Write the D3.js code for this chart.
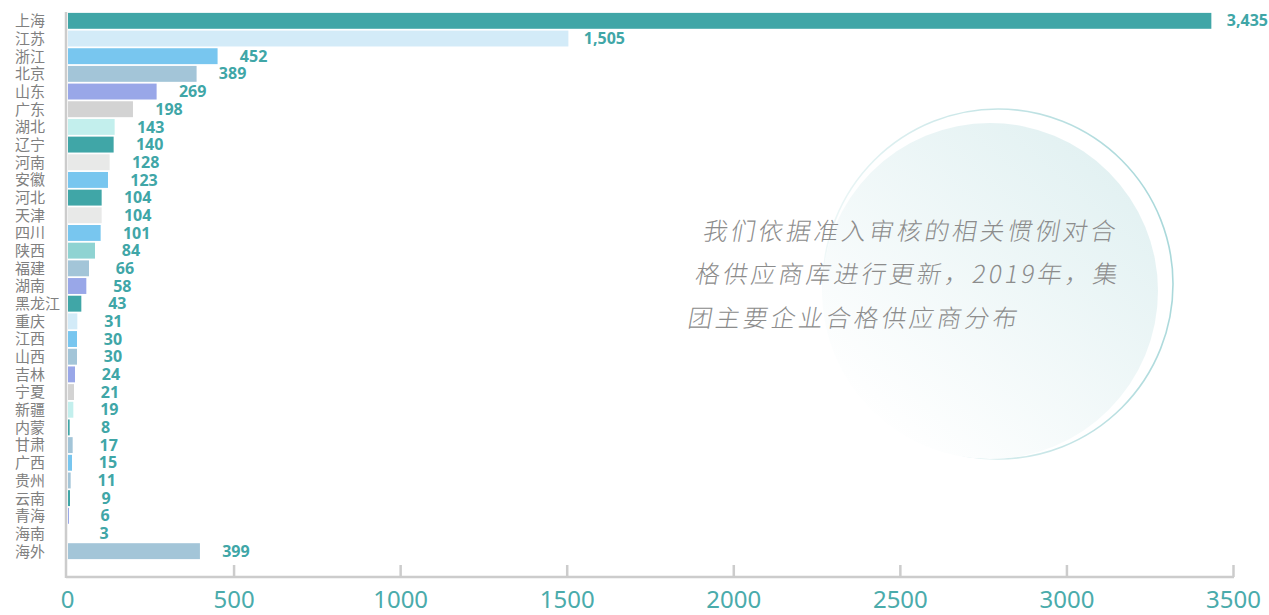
<!DOCTYPE html>
<html>
<head>
<meta charset="utf-8">
<script src="https://cdnjs.cloudflare.com/ajax/libs/d3/7.8.5/d3.min.js"></script>
<style>
  html, body { margin: 0; padding: 0; background: #fff; }
  svg { display: block; }
</style>
</head>
<body>
<div id="chart"></div>
<script>
var provinces = ['上海', '江苏', '浙江', '北京', '山东', '广东', '湖北', '辽宁', '河南', '安徽',
  '河北', '天津', '四川', '陕西', '福建', '湖南', '黑龙江', '重庆', '江西', '山西',
  '吉林', '宁夏', '新疆', '内蒙', '甘肃', '广西', '贵州', '云南', '青海', '海南', '海外'];
var suppliers = [3435, 1505, 452, 389, 269, 198, 143, 140, 128, 123,
  104, 104, 101, 84, 66, 58, 43, 31, 30, 30,
  24, 21, 19, 8, 17, 15, 11, 9, 6, 3, 399];
var xTicks = [0, 500, 1000, 1500, 2000, 2500, 3000, 3500];
var noteLines = ['我们依据准入审核的相关惯例对合', '格供应商库进行更新，2019年，集', '团主要企业合格供应商分布'];

// colour of each bar, in the order of the provinces
var barColors = ['#40a6a7', '#d3ebf8', '#78c6ef', '#a3c5d8', '#99a7e8', '#d3d3d3', '#c3efed', '#40a6a7', '#e8e9e8', '#78c6ef',
  '#40a6a7', '#e8e9e8', '#78c6ef', '#8fd3d2', '#a3c5d8', '#99a7e8', '#40a6a7', '#d3ebf8', '#78c6ef', '#a3c5d8',
  '#99a7e8', '#d3d3d3', '#c3efed', '#40a6a7', '#a3c5d8', '#78c6ef', '#a3c5d8', '#40a6a7', '#99a7e8', '#e8eaea', '#a3c5d8'];

var width = 1269, height = 615;
var teal = '#40a6a7';
var axisColor = '#cccccc';

var svg = d3.select('#chart').append('svg')
    .attr('width', width)
    .attr('height', height);

var defs = svg.append('defs');

var discGrad = defs.append('linearGradient')
    .attr('id', 'discGrad')
    .attr('x1', '85%').attr('y1', '10%')
    .attr('x2', '15%').attr('y2', '90%');
discGrad.append('stop').attr('offset', '0%').attr('stop-color', '#e2f1f2');
discGrad.append('stop').attr('offset', '100%').attr('stop-color', '#ffffff');

var ringGrad = defs.append('linearGradient')
    .attr('id', 'ringGrad')
    .attr('x1', '100%').attr('y1', '40%')
    .attr('x2', '0%').attr('y2', '60%');
ringGrad.append('stop').attr('offset', '0%').attr('stop-color', '#a9d8da');
ringGrad.append('stop').attr('offset', '55%').attr('stop-color', '#cfe9ea');
ringGrad.append('stop').attr('offset', '100%').attr('stop-color', '#f2f9f9');

// decorative circle behind the note
svg.append('circle')
    .attr('cx', 998).attr('cy', 284).attr('r', 175)
    .attr('fill', '#fff')
    .attr('stroke', 'url(#ringGrad)')
    .attr('stroke-width', 1.6);

svg.append('circle')
    .attr('cx', 990).attr('cy', 291).attr('r', 168)
    .attr('fill', 'url(#discGrad)');

var x = d3.scaleLinear()
    .domain([0, 3500])
    .range([67, 1233]);

var y = d3.scaleBand()
    .domain(provinces)
    .range([12, 560])
    .paddingInner(0.1)
    .paddingOuter(0.05);

var bars = svg.append('g');

bars.selectAll('rect')
    .data(suppliers)
    .enter().append('rect')
    .attr('x', x(0) + 1)
    .attr('y', function(d, i) { return y(provinces[i]); })
    .attr('width', function(d) { return x(d) - x(0) - 1; })
    .attr('height', y.bandwidth())
    .attr('fill', function(d, i) { return barColors[i]; });

bars.selectAll('text.value')
    .data(suppliers)
    .enter().append('text')
    .attr('class', 'value')
    .attr('x', function(d) { return x(d) + 36; })
    .attr('y', function(d, i) { return y(provinces[i]) + y.bandwidth() / 2; })
    .attr('dy', '0.35em')
    .attr('text-anchor', 'middle')
    .attr('font-family', '"Open Sans", "Noto Sans", sans-serif')
    .attr('font-weight', 'bold')
    .attr('font-size', '16px')
    .attr('fill', teal)
    .text(function(d) { return d3.format(',')(d); });

// category names, left aligned at the page edge
svg.append('g').selectAll('text')
    .data(provinces)
    .enter().append('text')
    .attr('x', 15)
    .attr('y', function(d) { return y(d) + y.bandwidth() / 2; })
    .attr('dy', '0.36em')
    .attr('font-family', '"Noto Sans CJK SC", sans-serif')
    .attr('font-size', '15px')
    .attr('fill', '#808080')
    .text(function(d) { return d; });

// axes
svg.append('line')
    .attr('x1', 66).attr('x2', 66)
    .attr('y1', 12).attr('y2', 578)
    .attr('stroke', axisColor)
    .attr('stroke-width', 2.5);

var xAxis = d3.axisBottom(x)
    .tickValues(xTicks)
    .tickSize(-12)
    .tickSizeOuter(0)
    .tickPadding(14)
    .tickFormat(d3.format('d'));

var axisG = svg.append('g')
    .attr('transform', 'translate(0,577)')
    .call(xAxis);

axisG.select('.domain')
    .attr('stroke', axisColor)
    .attr('stroke-width', 2.5)
    .attr('d', 'M66,0H1234');
axisG.selectAll('.tick line')
    .attr('stroke', axisColor)
    .attr('stroke-width', 2.5);
axisG.selectAll('.tick').filter(function(d) { return d === 0; }).select('line').remove();
axisG.selectAll('.tick text')
    .attr('fill', '#4aabab')
    .attr('font-family', '"Liberation Sans Narrow", "Noto Sans", sans-serif')
    .attr('font-size', '24px');

// the note, slanted as one block
var note = svg.append('g')
    .attr('transform', 'translate(700,240) skewX(-10)');

note.selectAll('text')
    .data(noteLines)
    .enter().append('text')
    .attr('x', 2)
    .attr('y', function(d, i) { return i * 43.5; })
    .attr('font-family', '"Noto Sans CJK SC", sans-serif')
    .attr('font-weight', 300)
    .attr('font-size', '24.5px')
    .attr('letter-spacing', '3.2px')
    .attr('fill', '#8c8c8c')
    .text(function(d) { return d; });
</script>
</body>
</html>
